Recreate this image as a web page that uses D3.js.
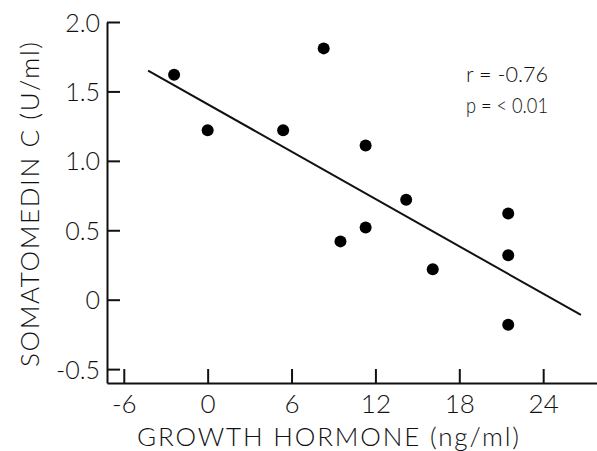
<!DOCTYPE html>
<html>
<head>
<meta charset="utf-8">
<script src="https://cdn.jsdelivr.net/npm/d3@7"></script>
<style>
  body { margin: 0; background: #fff; }
  text { font-family: Lato, "Open Sans", sans-serif; font-weight: 300; fill: #111; }
</style>
</head>
<body>
<div id="chart"></div>
<script>
// data
var ghValues = [-2.4, 0, 5.4, 8.3, 11.3, 9.5, 11.3, 14.2, 16.1, 21.5, 21.5, 21.5];
var smcValues = [1.62, 1.22, 1.22, 1.81, 1.11, 0.42, 0.52, 0.72, 0.22, 0.62, 0.32, -0.18];
var fitX = [-4.26, 26.7];
var fitY = [1.65, -0.11];
var xTicks = [-6, 0, 6, 12, 18, 24];
var yTicks = [-0.5, 0, 0.5, 1.0, 1.5, 2.0];
var statLines = ["r = -0.76", "p = < 0.01"];

var W = 597, H = 451;
var margin = {top: 22, right: 0, bottom: 68, left: 107};
var width = W - margin.left - margin.right,
    height = H - margin.top - margin.bottom;

var svg = d3.select("#chart").append("svg")
    .attr("width", W)
    .attr("height", H);

var g = svg.append("g")
    .attr("transform", "translate(" + margin.left + "," + margin.top + ")");

var x = d3.scaleLinear().domain([-7.2, 27.85]).range([0, width]);
var y = d3.scaleLinear().domain([-0.6, 2.0]).range([height, 0]);

// x axis, ticks pointing up
var xAxis = g.append("g")
    .attr("transform", "translate(0," + height + ")")
    .call(d3.axisBottom(x).tickValues(xTicks).tickSize(-14).tickSizeOuter(0)
        .tickFormat(function(d){ return d < 0 ? "-" + Math.abs(d) : d; }));
xAxis.selectAll("text").attr("y", 30).attr("dy", 0).style("font-size", "26px");

// y axis, ticks pointing right
var yAxis = g.append("g")
    .call(d3.axisLeft(y).tickValues(yTicks).tickSize(-13).tickSizeOuter(0)
        .tickFormat(function(d){
            if (d === 0) return "0";
            var s = Math.abs(d).toFixed(1);
            return d < 0 ? "-" + s : s;
        }));
yAxis.selectAll("text").attr("x", -7).attr("dy", "0.36em").style("font-size", "25px");

g.selectAll(".domain, .tick line")
    .attr("stroke", "#111")
    .attr("stroke-width", 2);
g.selectAll(".tick text").attr("fill", "#111");

// regression line
g.append("line")
    .attr("x1", x(fitX[0])).attr("y1", y(fitY[0]))
    .attr("x2", x(fitX[1])).attr("y2", y(fitY[1]))
    .attr("stroke", "#111")
    .attr("stroke-width", 2);

// points
g.selectAll("circle.pt")
    .data(ghValues)
    .enter().append("circle")
    .attr("class", "pt")
    .attr("cx", function(d){ return x(d); })
    .attr("cy", function(d, i){ return y(smcValues[i]); })
    .attr("r", 6)
    .attr("fill", "#000");

// stats text
svg.selectAll("text.stat")
    .data(statLines)
    .enter().append("text")
    .attr("class", "stat")
    .attr("x", 466)
    .attr("y", function(d, i){ return 82 + i * 31; })
    .attr("textLength", 82)
    .attr("lengthAdjust", "spacingAndGlyphs")
    .style("font-size", "21px")
    .text(function(d){ return d; });

// axis titles
svg.append("text")
    .attr("x", 137)
    .attr("y", 446)
    .attr("textLength", 382)
    .attr("lengthAdjust", "spacing")
    .style("font-size", "26px")
    .text("GROWTH HORMONE (ng/ml)");

svg.append("text")
    .attr("transform", "translate(39,367) rotate(-90)")
    .attr("x", 0)
    .attr("y", 0)
    .attr("textLength", 325)
    .attr("lengthAdjust", "spacing")
    .style("font-size", "26px")
    .text("SOMATOMEDIN C (U/ml)");
</script>
</body>
</html>
